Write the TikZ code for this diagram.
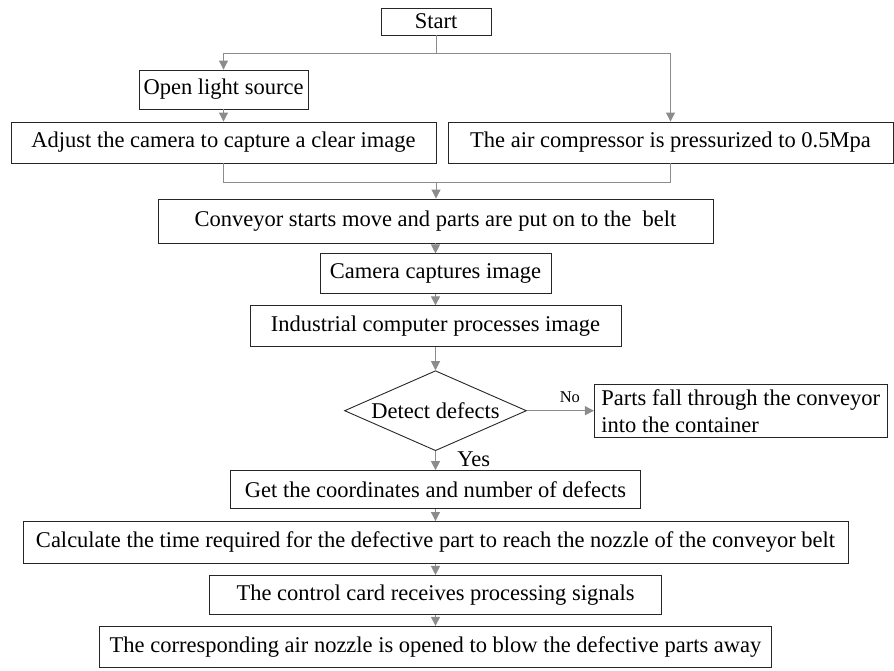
\documentclass[tikz,border=0pt]{standalone}
\usepackage{fontspec}
\setmainfont{Liberation Serif}
\usepackage{tikz}
\usetikzlibrary{
        arrows.meta,
        positioning,
        shapes.geometric
    }
\definecolor{linkgray}{RGB}{140,140,140}
\tikzset{>={Triangle[width=9pt,length=9pt]},node distance=11pt}
\tikzset{box/.style={draw=black!85,line width=0.9pt,rectangle,minimum height=40pt,inner sep=3pt}}
\tikzset{dec/.style={draw=black!85,line width=0.9pt,diamond,aspect=2.3,inner sep=1pt,minimum width=182pt,minimum height=80pt}}
\tikzset{link/.style={draw=linkgray,line width=1pt}}
\tikzset{small/.style={font=\fontsize{16.5}{20}\selectfont}}

\begin{document}
\begin{tikzpicture}[x=1pt,y=1pt,font=\fontsize{22.5}{27}\selectfont]
        \useasboundingbox (0,0) rectangle (894,-671);
        \node[box,minimum width=110,minimum height=27] (start) at (436,-21.5) {Start};
        \node[box,minimum width=169,minimum height=39] (light) at (223.5,-89.5) {Open light source};
        \node[box,minimum width=425,minimum height=41] (camadj) at (223.5,-142.5) {Adjust the camera to capture a clear image};
        \node[box,minimum width=445,minimum height=41] (air) at (670.5,-142.5) {The air compressor is pressurized to 0.5Mpa};
        \node[box,minimum width=555,minimum height=44] (belt) at (435.5,-221) {Conveyor starts move and parts are put on to the\ \ belt};
        \node[box,minimum width=231,below=10pt of belt] (capture) {Camera captures image};
        \node[box,minimum width=371,minimum height=41,below=11pt of capture] (ipc) {Industrial computer processes image};
        \node[dec,below=23pt of ipc] (detect) {Detect defects};
        \node[box,align=left,inner xsep=7pt,minimum height=53,right=67pt of detect] (fall) {Parts fall through the conveyor\\into the container};
        \node[box,minimum width=410,minimum height=38,below=19pt of detect] (coords) {Get the coordinates and number of defects};
        \node[box,minimum width=825,minimum height=42,below=12pt of coords] (calc) {Calculate the time required for the defective part to reach the nozzle of the conveyor belt};
        \node[box,minimum width=452,minimum height=39,below=11pt of calc] (card) {The control card receives processing signals};
        \node[box,minimum width=672,minimum height=41,below=11pt of card] (nozzle) {The corresponding air nozzle is opened to blow the defective parts away};

        \coordinate (split) at (436,-54);
        \coordinate (join) at (436,-183);
        \draw[link] (start) -- (split);
        \draw[link,->] (split) -| (light);
        \draw[link,->] (split) -| (air);
        \draw[link,->] (light) -- (camadj);
        \draw[link] (camadj) |- (join);
        \draw[link] (air) |- (join);
        \draw[link,->] (join) -- (join |- belt.north);
        \draw[link,->] (belt) -- (capture);
        \draw[link,->] (capture) -- (ipc);
        \draw[link,->] (ipc) -- (detect);
        \draw[link,->] (detect) -- node[small,above=4pt,pos=0.64] {No} (fall);
        \draw[link,->] (detect) -- node[right=18pt,pos=0.4] {Yes} (coords);
        \draw[link,->] (coords) -- (calc);
        \draw[link,->] (calc) -- (card);
        \draw[link,->] (card) -- (nozzle);
\end{tikzpicture}
\end{document}
